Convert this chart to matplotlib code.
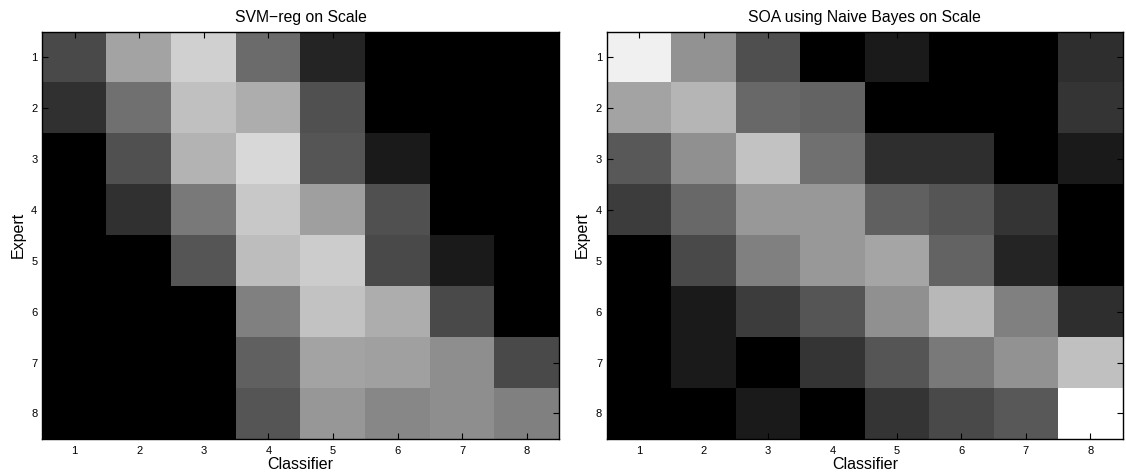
import matplotlib

matplotlib.use("Agg")
import matplotlib.pyplot as plt  # noqa: E402
import numpy as np  # noqa: E402

LABELS = [1, 2, 3, 4, 5, 6, 7, 8]

# grey level (0-255) per cell, rows = Expert 1..8, cols = Classifier 1..8
SVM_REG = [
    [74, 163, 208, 107, 36, 0, 0, 0],
    [48, 112, 192, 173, 80, 0, 0, 0],
    [0, 80, 179, 216, 85, 26, 0, 0],
    [0, 48, 122, 200, 159, 80, 0, 0],
    [0, 0, 85, 189, 204, 74, 26, 0],
    [0, 0, 0, 128, 194, 173, 74, 0],
    [0, 0, 0, 96, 163, 160, 142, 74],
    [0, 0, 0, 85, 151, 135, 142, 128],
]
SOA_NB = [
    [240, 146, 79, 0, 26, 0, 0, 46],
    [163, 181, 104, 99, 0, 0, 0, 53],
    [88, 144, 194, 112, 46, 46, 0, 26],
    [61, 104, 152, 152, 96, 85, 53, 0],
    [0, 74, 128, 152, 165, 99, 36, 0],
    [0, 26, 61, 85, 144, 184, 128, 46],
    [0, 26, 0, 53, 85, 122, 146, 192],
    [0, 0, 26, 0, 53, 74, 88, 255],
]
TITLES = ["SVM\u2212reg on Scale", "SOA using Naive Bayes on Scale"]

plt.rcParams["font.family"] = ["Liberation Sans", "DejaVu Sans"]

fig = plt.figure(figsize=(11.26, 4.74), dpi=100)
positions = [[0.0375, 0.074, 0.459, 0.859], [0.539, 0.074, 0.458, 0.859]]

for pos, data, title in zip(positions, [SVM_REG, SOA_NB], TITLES):
    ax = fig.add_axes(pos)
    n = len(LABELS)
    ax.imshow(np.asarray(data), cmap="gray", vmin=0, vmax=255,
              interpolation="nearest", aspect="auto",
              extent=(0.5, n + 0.5, n + 0.5, 0.5))
    ax.set_xticks(LABELS)
    ax.set_yticks(LABELS)
    ax.set_xticklabels(LABELS, fontsize=8)
    ax.set_yticklabels(LABELS, fontsize=8)
    ax.tick_params(direction="in", top=True, right=True, length=4, width=0.8)
    ax.tick_params(axis="x", pad=5)
    ax.set_xlabel("Classifier", fontsize=11.5, labelpad=1)
    ax.set_ylabel("Expert", fontsize=11.5, labelpad=4)
    ax.set_title(title, fontsize=11.3, pad=7)
    for s in ax.spines.values():
        s.set_linewidth(1.0)

fig.savefig("out.png", dpi=100)
